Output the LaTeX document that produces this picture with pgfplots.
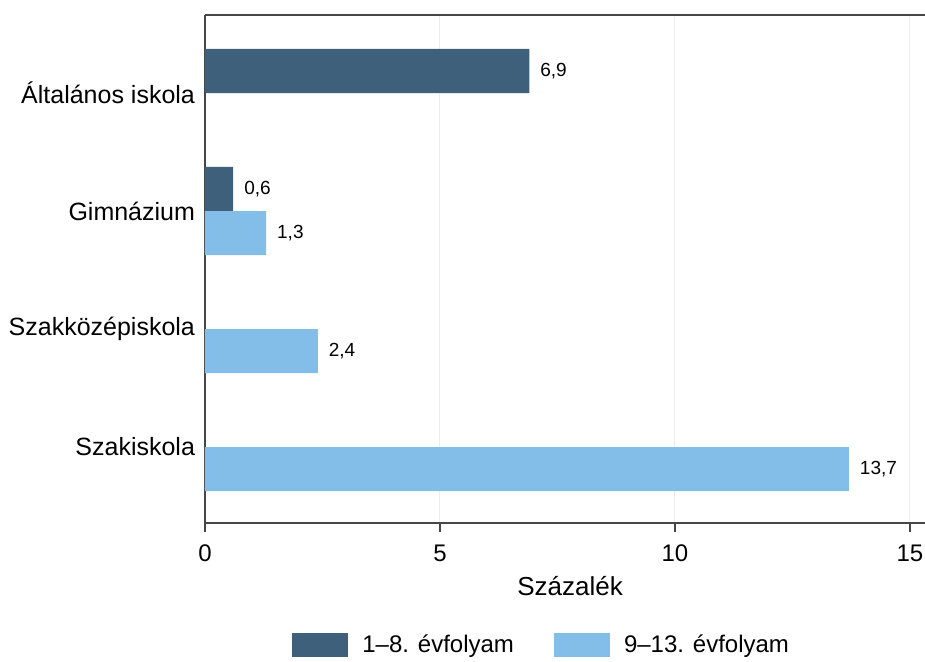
\documentclass[border=0pt]{standalone}
\usepackage{pgfplots}
\pgfplotsset{compat=1.18}
\usepackage{fontspec}
\setmainfont{Liberation Sans}
\definecolor{darkbar}{RGB}{62,96,122}
\definecolor{lightbar}{RGB}{130,190,232}
\definecolor{gridgray}{RGB}{236,236,236}
\definecolor{axisgray}{RGB}{70,70,70}
\begin{document}
\begin{tikzpicture}
\begin{axis}[
    width=360pt, height=254pt, scale only axis,
    xbar, bar width=0.373,
    xmin=0, xmax=15.32,
    ymin=-0.644, ymax=3.661,
    ytick={0,1,2,3},
    yticklabels={Szakiskola,Szakközépiskola,Gimnázium,Általános iskola},
    ytick style={draw=none},
    xtick={0,5,10,15},
    xtick pos=bottom,
    xtick align=outside,
    major tick length=4.5pt,
    xtick style={axisgray, line width=0.6pt},
    xmajorgrids,
    major grid style={gridgray, line width=0.5pt},
    separate axis lines,
    axis x line*=box,
    axis y line*=left,
    axis line style={axisgray, line width=0.7pt},
    /pgf/number format/assume math mode=true,
    yticklabel style={font=\fontsize{12.5}{15}\selectfont, xshift=3pt},
    xticklabel style={font=\fontsize{12}{14}\selectfont, yshift=-3pt},
    xlabel={Százalék},
    xlabel style={font=\fontsize{13}{15}\selectfont, at={(axis description cs:0.507,-0.125)}, anchor=center},
    nodes near coords={\pgfmathprintnumber[use comma,fixed,fixed zerofill,precision=1]{\pgfplotspointmeta}},
    nodes near coords style={font=\fontsize{9.5}{11}\selectfont, anchor=west, xshift=2pt},
    legend columns=2,
    legend style={
        at={(axis description cs:0.469,-0.240)}, anchor=center,
        draw=none, font=\fontsize{12}{14}\selectfont,
        /tikz/every odd column/.append style={column sep=5pt},
        /tikz/every even column/.append style={column sep=18pt},
    },
    legend image code/.code={\fill[#1] (0pt,-6pt) rectangle (28pt,6pt);},
]
\addplot[fill=darkbar, draw=none, bar shift=0.1865] coordinates {
    (6.9,3)
    (0.6,2)
};
\addlegendentry{1–8. évfolyam}
\addplot[fill=lightbar, draw=none, bar shift=-0.1865] coordinates {
    (1.3,2)
    (2.4,1)
    (13.7,0)
};
\addlegendentry{9–13. évfolyam}
\coordinate (sw) at (rel axis cs:0,0);
\coordinate (ne) at (rel axis cs:1,1);
\end{axis}
\pgfresetboundingbox
\path[use as bounding box] (sw) ++(-102.5pt,-69pt) rectangle ([yshift=7.5pt]ne);
\end{tikzpicture}
\end{document}
